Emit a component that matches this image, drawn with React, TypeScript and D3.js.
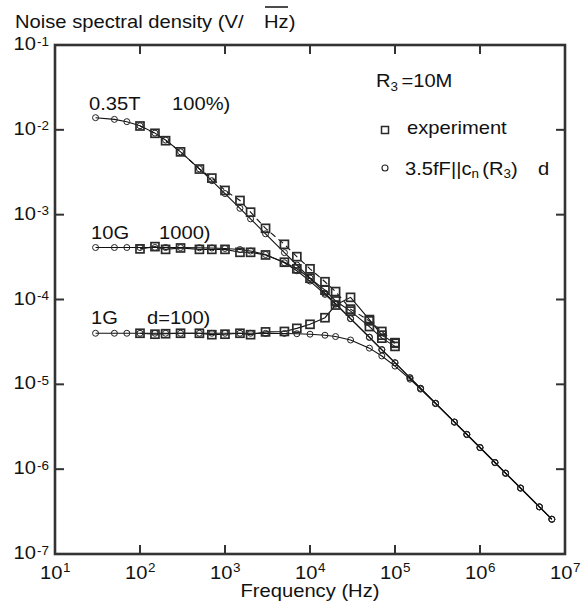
import React from "react";
import * as d3 from "d3";

// ---------- data ----------
const circleFreq = [30, 50, 70, 100, 150, 200, 300, 500, 700, 1e3, 1.5e3, 2e3, 3e3, 5e3, 7e3, 1e4, 1.5e4, 2e4, 3e4, 5e4, 7e4, 1e5, 1.5e5, 2e5, 3e5, 5e5, 7e5, 1e6, 1.5e6, 2e6, 3e6, 5e6, 7e6];
const theoryTop = [0.01391, 0.01328, 0.01248, 0.01117, 0.00915, 0.00758, 0.0055, 0.00347, 0.002514, 0.001774, 0.001188, 0.000892, 0.000595, 0.000357, 0.000255, 0.000179, 0.000119, 8.94e-5, 5.96e-5, 3.58e-5, 2.55e-5, 1.79e-5, 1.19e-5, 8.94e-6, 5.96e-6, 3.58e-6, 2.55e-6, 1.79e-6, 1.19e-6, 8.9e-7, 5.96e-7, 3.58e-7, 2.56e-7];
const theoryMid = [4.1e-4, 4.1e-4, 4.1e-4, 4.1e-4, 4.1e-4, 4.1e-4, 4.09e-4, 4.07e-4, 4.05e-4, 4.0e-4, 3.88e-4, 3.73e-4, 3.39e-4, 2.71e-4, 2.18e-4, 1.65e-4, 1.15e-4, 8.8e-5, 5.95e-5, 3.59e-5, 2.57e-5, 1.8e-5, 1.2e-5, 9.0e-6, 6.0e-6, 3.6e-6, 2.58e-6, 1.8e-6, 1.2e-6, 9.0e-7, 6.0e-7, 3.6e-7, 2.58e-7];
const theoryLow = [4.0e-5, 4.0e-5, 4.0e-5, 4.0e-5, 4.0e-5, 4.0e-5, 4.0e-5, 4.0e-5, 4.0e-5, 4.0e-5, 4.0e-5, 4.0e-5, 3.99e-5, 3.98e-5, 3.95e-5, 3.9e-5, 3.79e-5, 3.66e-5, 3.33e-5, 2.67e-5, 2.16e-5, 1.64e-5, 1.15e-5, 8.78e-6, 5.93e-6, 3.59e-6, 2.57e-6, 1.8e-6, 1.2e-6, 9.0e-7, 6.0e-7, 3.6e-7, 2.57e-7];

const squareFreq = [100, 150, 200, 300, 500, 700, 1e3, 1.5e3, 2e3, 3e3, 5e3, 7e3, 1e4, 1.5e4, 2e4, 3e4, 5e4, 7e4, 1e5];
const expTop = [0.0111, 0.0091, 0.00745, 0.0055, 0.00345, 0.0027, 0.00193, 0.00147, 0.00107, 0.00069, 0.000447, 0.00032, 0.00023, 0.000162, 0.000124, 7.7e-5, 5.6e-5, 4.2e-5, 3.1e-5];
const expMid = [3.95e-4, 4.2e-4, 3.9e-4, 4.05e-4, 3.9e-4, 3.9e-4, 3.9e-4, 3.6e-4, 3.6e-4, 3.35e-4, 2.75e-4, 2.3e-4, 1.78e-4, 1.29e-4, 9.6e-5, 7.3e-5, 4.8e-5, 3.5e-5, 2.8e-5];
const expLow = [4.0e-5, 3.9e-5, 3.95e-5, 4.0e-5, 4.0e-5, 3.85e-5, 3.9e-5, 4.0e-5, 3.85e-5, 4.15e-5, 4.2e-5, 4.57e-5, 5.1e-5, 6.1e-5, 8.6e-5, 1.06e-4, 5.8e-5, 3.8e-5, 3.05e-5];

const xTickExp = [1, 2, 3, 4, 5, 6, 7];
const yTickExp = [-1, -2, -3, -4, -5, -6, -7];

// ---------- layout ----------
const W = 583;
const H = 610;
const L = 55, R = 565, T = 45, B = 554;
const FONT = "'Liberation Sans', Arial, Helvetica, sans-serif";
const SX = 1.12;
const INK = "#111";
const FRAME = "#333";

const x = d3.scaleLog().domain([10, 1e7]).range([L, R]);
const y = d3.scaleLog().domain([1e-1, 1e-7]).range([T, B]);

type P = [number, number];
const line = d3.line<P>().x((d) => x(d[0])).y((d) => y(d[1]));
const zip = (fs: number[], vs: number[]): P[] => fs.map((f, i) => [f, vs[i]]);

function Txt({ x: tx, y: ty, size = 18, anchor = "start", children }: any) {
  return (
    <text
      transform={`translate(${tx},${ty}) scale(${SX},1)`}
      fontSize={size}
      fontFamily={FONT}
      fill={INK}
      textAnchor={anchor}
    >
      {children}
    </text>
  );
}

export default function App() {
  const theory = [theoryTop, theoryMid, theoryLow];
  const exp = [expTop, expMid, expLow];
  const sq = 8;
  return (
    <svg width={W} height={H} style={{ position: "absolute", left: 0, top: 0, background: "#fff" }}>
      <rect x={0} y={0} width={W} height={H} fill="#fff" />
      {/* title */}
      <Txt x={15} y={28}>Noise spectral density (V/</Txt>
      <Txt x={264} y={28}>Hz)</Txt>
      <line x1={265} x2={288} y1={7} y2={7} stroke={INK} strokeWidth={1.5} />

      {/* frame */}
      <rect x={L} y={T} width={R - L} height={B - T} fill="none" stroke={FRAME} strokeWidth={2.6} />
      {xTickExp.map((e) => {
        const px = x(Math.pow(10, e));
        return (
          <g key={"xt" + e}>
            <line x1={px} x2={px} y1={B} y2={B - 9} stroke={FRAME} strokeWidth={2} />
            <line x1={px} x2={px} y1={T} y2={T + 9} stroke={FRAME} strokeWidth={2} />
            <Txt x={px + 7.5} y={579} anchor="end">10</Txt>
            <Txt x={px + 8} y={571.5} size={12}>{String(e)}</Txt>
          </g>
        );
      })}
      {yTickExp.map((e) => {
        const py = y(Math.pow(10, e));
        return (
          <g key={"yt" + e}>
            <line x1={L} x2={L + 9} y1={py} y2={py} stroke={FRAME} strokeWidth={2} />
            <line x1={R} x2={R - 9} y1={py} y2={py} stroke={FRAME} strokeWidth={2} />
            <Txt x={36} y={py + 5} anchor="end">10</Txt>
            <Txt x={37} y={py + 0.5} size={12}>{"-" + Math.abs(e)}</Txt>
          </g>
        );
      })}
      <Txt x={310} y={597} anchor="middle">Frequency (Hz)</Txt>

      {/* theory lines */}
      {theory.map((vs, i) => (
        <path key={"tl" + i} d={line(zip(circleFreq, vs)) || ""} fill="none" stroke={INK} strokeWidth={1.1} />
      ))}
      {/* experiment lines */}
      {exp.map((vs, i) => (
        <path
          key={"el" + i}
          d={line(zip(squareFreq, vs)) || ""}
          fill="none"
          stroke={INK}
          strokeWidth={1.1}
          strokeDasharray={i === 0 ? "6,4" : undefined}
        />
      ))}
      {/* circles */}
      {theory.map((vs, i) =>
        zip(circleFreq, vs).map((d, j) => (
          <circle key={"c" + i + "-" + j} cx={x(d[0])} cy={y(d[1])} r={3} fill="none" stroke="#222" strokeWidth={1} />
        ))
      )}
      {/* squares */}
      {exp.map((vs, i) =>
        zip(squareFreq, vs).map((d, j) => (
          <rect
            key={"s" + i + "-" + j}
            x={x(d[0]) - sq / 2}
            y={y(d[1]) - sq / 2}
            width={sq}
            height={sq}
            fill="none"
            stroke="#2a2a2a"
            strokeWidth={1.7}
          />
        ))
      )}

      {/* curve labels */}
      <Txt x={89} y={110}>0.35T</Txt>
      <Txt x={172} y={110}>100%)</Txt>
      <Txt x={91} y={239}>10G</Txt>
      <Txt x={159} y={239}>1000)</Txt>
      <Txt x={91} y={324}>1G</Txt>
      <Txt x={147} y={324}>d=100)</Txt>

      {/* legend */}
      <Txt x={376} y={87}>
        R<tspan fontSize={12} dy={4}>3</tspan>
        <tspan dy={-4} dx={3}>=10M</tspan>
      </Txt>
      <rect x={385 - 3.5} y={130 - 3.5} width={7} height={7} fill="none" stroke="#2a2a2a" strokeWidth={1.5} />
      <Txt x={407} y={134}>experiment</Txt>
      <circle cx={385} cy={168} r={3} fill="none" stroke="#222" strokeWidth={1.1} />
      <Txt x={405} y={175}>
        3.5fF||c<tspan fontSize={12} dy={3}>n</tspan>
        <tspan dy={-3} dx={3}>(R</tspan>
        <tspan fontSize={12} dy={3}>3</tspan>
        <tspan dy={-3}>)</tspan>
      </Txt>
      <Txt x={538} y={175}>d</Txt>
    </svg>
  );
}
